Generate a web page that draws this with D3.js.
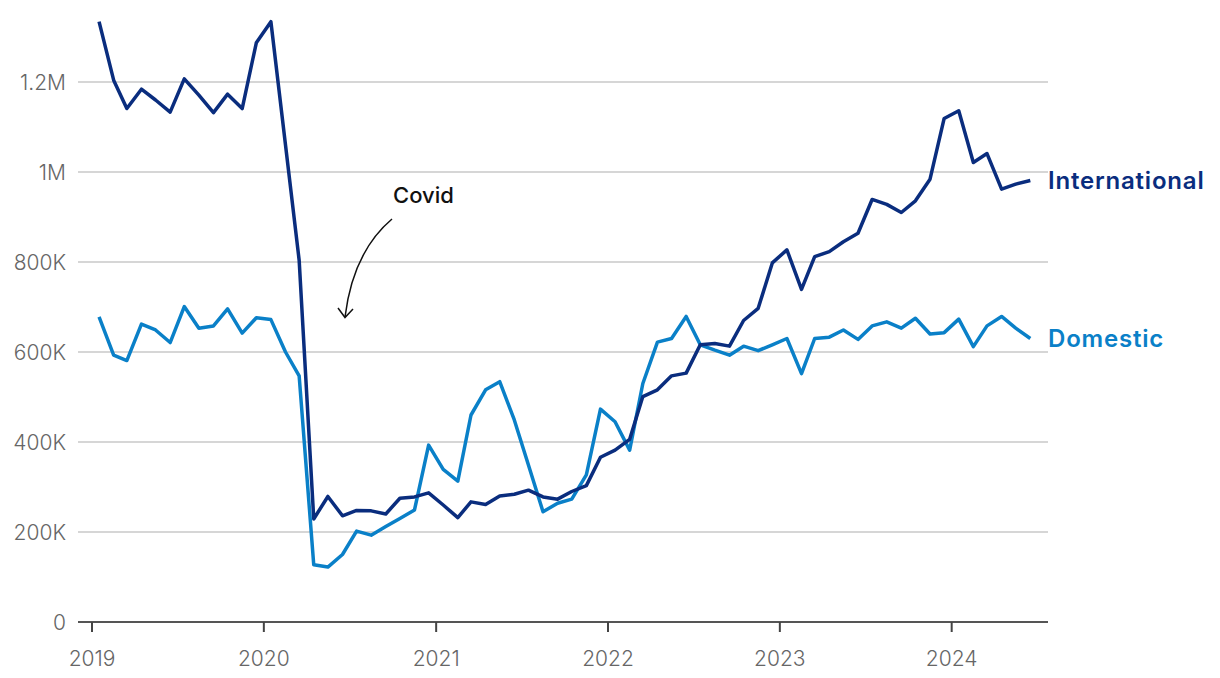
<!DOCTYPE html>
<html>
<head>
<meta charset="utf-8">
<script src="https://cdn.jsdelivr.net/npm/d3@7"></script>
<style>
  html, body { margin: 0; padding: 0; background: #fff; }
  svg { display: block; font-family: Inter, "Noto Sans", sans-serif; }
</style>
</head>
<body>
<svg id="chart" width="1220" height="678"></svg>
<script>
// Monthly values, Jan 2019 – Jun 2024 (thousands)
const startYear = 2019, startMonth = 0;
const international = [1334,1204,1141,1184,1160,1133,1207,1171,1132,1173,1141,1287,
  1334,1060,804,229,279,236,248,247,240,275,278,287,
  260,232,267,261,280,284,293,278,273,290,303,366,
  382,406,501,516,547,553,616,619,613,670,697,798,
  827,739,812,823,845,864,939,928,910,936,984,1119,
  1136,1021,1041,962,973,981];
const domestic = [678,593,581,662,649,621,701,653,658,696,642,676,
  672,600,547,127,122,150,202,193,212,230,249,393,
  339,313,460,516,534,449,349,245,264,273,327,473,
  445,382,530,622,630,679,616,604,593,613,603,616,
  630,552,630,633,649,628,658,667,653,675,640,643,
  673,612,658,679,653,630];
const seriesNames = ["International", "Domestic"];
const yTicks = [0, 200000, 400000, 600000, 800000, 1000000, 1200000];
const yTickLabels = ["0", "200K", "400K", "600K", "800K", "1M", "1.2M"];
const xTickYears = [2019, 2020, 2021, 2022, 2023, 2024];
const annotationText = "Covid";

const colors = { International: "#0a2d7e", Domestic: "#0a80c8" };

const svg = d3.select("#chart");
const x = d3.scaleTime()
  .domain([new Date(2019, 0, 1), new Date(2025, 0, 1)])
  .range([92, 92 + 6 * 172]);
const y = d3.scaleLinear().domain([0, 1200000]).range([622, 82]);
const gridLeft = 78, gridRight = 1048;

const toSeries = arr => arr.map((v, i) => ({
  date: new Date(startYear, startMonth + i, 16),
  value: v * 1000
}));
const data = { International: toSeries(international), Domestic: toSeries(domestic) };

// gridlines
svg.append("g").selectAll("line")
  .data(yTicks.filter(t => t !== 0))
  .join("line")
  .attr("x1", gridLeft).attr("x2", gridRight)
  .attr("y1", d => y(d)).attr("y2", d => y(d))
  .attr("stroke", "#d6d6d6").attr("stroke-width", 2);

// y labels
svg.append("g").selectAll("text")
  .data(yTicks)
  .join("text")
  .attr("x", 66).attr("y", d => y(d))
  .attr("dy", "0.36em")
  .attr("text-anchor", "end")
  .attr("fill", "#666")
  .attr("font-size", 21)
  .attr("font-weight", 300)
  .text((d, i) => yTickLabels[i]);

// x axis line
svg.append("line")
  .attr("x1", gridLeft).attr("x2", gridRight)
  .attr("y1", y(0)).attr("y2", y(0))
  .attr("stroke", "#555").attr("stroke-width", 2);

// x ticks & labels
const xt = svg.append("g").selectAll("g")
  .data(xTickYears)
  .join("g")
  .attr("transform", d => `translate(${x(new Date(d, 0, 1))},0)`);
xt.append("line")
  .attr("y1", y(0)).attr("y2", y(0) + 10)
  .attr("stroke", "#444").attr("stroke-width", 2);
xt.append("text")
  .attr("y", 666)
  .attr("text-anchor", "middle")
  .attr("fill", "#666")
  .attr("font-size", 21)
  .attr("font-weight", 300)
  .text(d => d);

// lines
const line = d3.line().x(d => x(d.date)).y(d => y(d.value));
["Domestic", "International"].forEach(name => {
  svg.append("path")
    .datum(data[name])
    .attr("fill", "none")
    .attr("stroke", colors[name])
    .attr("stroke-width", 3.5)
    .attr("stroke-linejoin", "round")
    .attr("d", line);
});

// series labels
seriesNames.forEach(name => {
  const last = data[name][data[name].length - 1];
  svg.append("text")
    .attr("x", gridRight)
    .attr("y", y(last.value))
    .attr("dy", "0.36em")
    .attr("fill", colors[name])
    .attr("font-size", 24)
    .attr("font-weight", 600)
    .attr("letter-spacing", 0.8)
    .text(name);
});

// annotation
svg.append("text")
  .attr("x", 393).attr("y", 203)
  .attr("fill", "#111")
  .attr("font-size", 22)
  .attr("font-weight", 500)
  .text(annotationText);
svg.append("path")
  .attr("d", "M392,219 Q353,252 345,317")
  .attr("fill", "none").attr("stroke", "#111").attr("stroke-width", 1.5);
svg.append("path")
  .attr("d", "M338,308 L345,317.5 L353,309")
  .attr("fill", "none").attr("stroke", "#111").attr("stroke-width", 1.5);
</script>
</body>
</html>
